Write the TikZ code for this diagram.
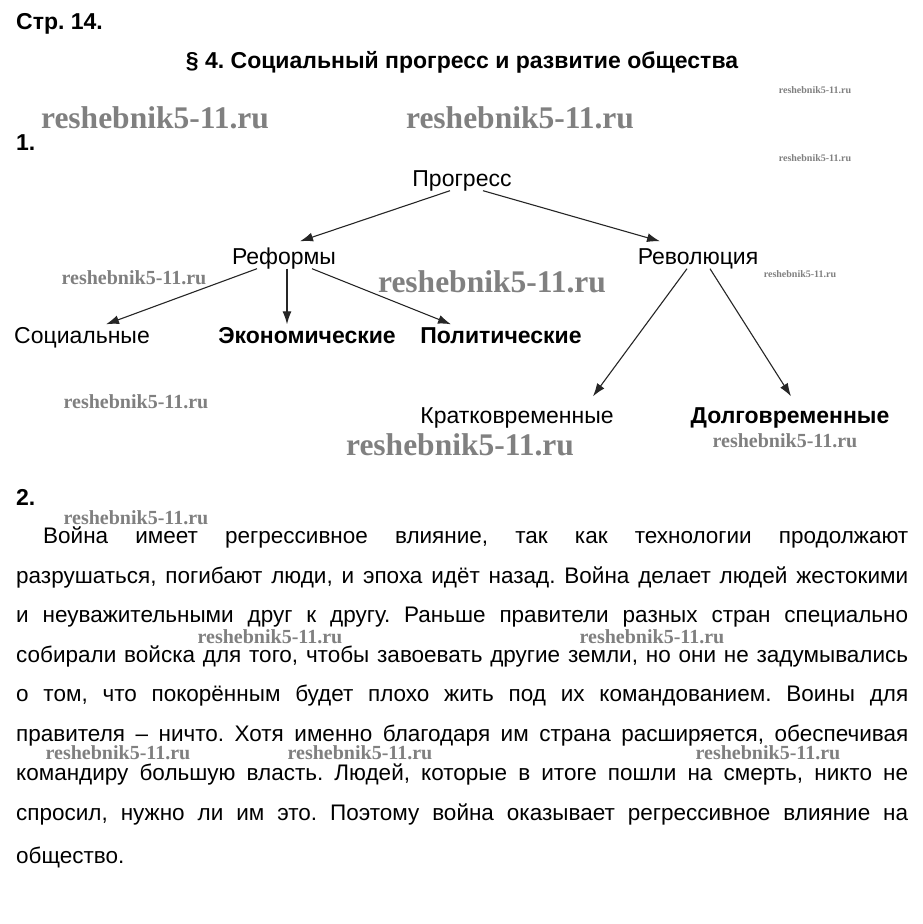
\documentclass[tikz,border=0pt]{standalone}
\usepackage{fontspec}
\setmainfont{Liberation Sans}
\newfontfamily\wmfont{Liberation Serif}
\usetikzlibrary{arrows.meta,positioning}

\begin{document}
\frenchspacing
\begin{tikzpicture}[x=1pt, y=-1pt, node distance=80pt, on grid,
        heading/.style={inner sep=0pt, font=\fontsize{23pt}{25pt}\selectfont\bfseries},
        term/.style={inner sep=0pt, text height=16pt, text depth=5pt, font=\fontsize{23pt}{25pt}\selectfont},
        termbold/.style={term, font=\fontsize{23pt}{25pt}\selectfont\bfseries},
        arrow/.style={-{Latex[length=13pt, width=9pt]}, line width=1.1pt, black!85},
        wmbig/.style={inner sep=0pt, text=black!50, font=\wmfont\bfseries\fontsize{31.5pt}{33pt}\selectfont},
        wmmid/.style={wmbig, font=\wmfont\bfseries\fontsize{20pt}{22pt}\selectfont},
        wmtiny/.style={wmbig, font=\wmfont\bfseries\fontsize{10pt}{12pt}\selectfont}]
    \useasboundingbox[fill=white] (0,0) rectangle (922,924);

    % headings
    \node[heading, anchor=west] (page) at (16,24) {Стр. 14.};
    \node[heading] (title) at (462,62) {§ 4. Социальный прогресс и развитие общества};
    \node[heading, anchor=west] (task1) at (16,143) {1.};
    \node[heading, anchor=west] (task2) at (16,497) {2.};

    % tree
    \node[term] (progress) at (462,181) {Прогресс};
    \node[term, below left=78pt and 178pt of progress] (reforms) {Реформы};
    \node[term, below right=78pt and 236pt of progress] (revolution) {Революция};
    \node[term, below left=79pt and 202pt of reforms] (social) {Социальные};
    \node[termbold, below right=79pt and 23pt of reforms] (economic) {Экономические};
    \node[termbold, below right=79pt and 217pt of reforms] (political) {Политические};
    \node[term, below left=159pt and 181pt of revolution] (shortterm) {Кратковременные};
    \node[termbold, below right=159pt and 92pt of revolution] (longterm) {Долговременные};

    \draw[arrow] ([xshift=-12pt, yshift=1pt]progress.south) -- ([xshift=16pt, yshift=7pt]reforms.north);
    \draw[arrow] ([xshift=21pt, yshift=1pt]progress.south) -- ([xshift=-38pt, yshift=7pt]revolution.north);
    \draw[arrow] ([xshift=-27pt, yshift=1pt]reforms.south) -- ([xshift=24pt, yshift=3pt]social.north);
    \draw[arrow] ([xshift=3pt, yshift=1pt]reforms.south) -- ([xshift=-20pt, yshift=3pt]economic.north);
    \draw[arrow] ([xshift=28pt, yshift=1pt]reforms.south) -- ([xshift=-50pt, yshift=3pt]political.north);
    \draw[arrow] ([xshift=-11pt, yshift=1pt]revolution.south) -- ([xshift=76pt, yshift=11pt]shortterm.north);
    \draw[arrow] ([xshift=12pt, yshift=1pt]revolution.south) -- ([xshift=1pt, yshift=11pt]longterm.north);

    % answer text
    \node[anchor=north west, inner sep=0pt, text width=892pt, align=justify,
          font=\fontsize{22.5pt}{39.5pt}\selectfont] (answer) at (16,527) {%
        \hspace*{27pt}Война имеет регрессивное влияние, так как технологии продолжают\linebreak
        разрушаться, погибают люди, и эпоха идёт назад. Война делает людей жестокими\linebreak
        и неуважительными друг к другу. Раньше правители разных стран специально\linebreak
        собирали войска для того, чтобы завоевать другие земли, но они не задумывались\linebreak
        о том, что покорённым будет плохо жить под их командованием. Воины для\linebreak
        правителя – ничто. Хотя именно благодаря им страна расширяется, обеспечивая\linebreak
        командиру большую власть. Людей, которые в итоге пошли на смерть, никто не\linebreak
        спросил, нужно ли им это. Поэтому война оказывает регрессивное влияние на\linebreak};
    \node[anchor=west, inner sep=0pt, font=\fontsize{22.5pt}{24pt}\selectfont] (answerend) at (16,857) {общество.};

    % watermarks
    \node[wmbig] (wm1) at (155,118) {reshebnik5-11.ru};
    \node[wmbig] (wm2) at (520,118) {reshebnik5-11.ru};
    \node[wmbig] (wm3) at (492,282) {reshebnik5-11.ru};
    \node[wmbig] (wm4) at (460,445) {reshebnik5-11.ru};
    \node[wmtiny] (wm5) at (815,90) {reshebnik5-11.ru};
    \node[wmtiny] (wm6) at (815,158) {reshebnik5-11.ru};
    \node[wmtiny] (wm7) at (800,274) {reshebnik5-11.ru};
    \node[wmmid] (wm8) at (134,278) {reshebnik5-11.ru};
    \node[wmmid] (wm9) at (136,402) {reshebnik5-11.ru};
    \node[wmmid] (wm10) at (785,441) {reshebnik5-11.ru};
    \node[wmmid] (wm11) at (136,518) {reshebnik5-11.ru};
    \node[wmmid] (wm12) at (270,637) {reshebnik5-11.ru};
    \node[wmmid] (wm13) at (652,637) {reshebnik5-11.ru};
    \node[wmmid] (wm14) at (118,753) {reshebnik5-11.ru};
    \node[wmmid] (wm15) at (360,753) {reshebnik5-11.ru};
    \node[wmmid] (wm16) at (768,753) {reshebnik5-11.ru};
\end{tikzpicture}
\end{document}
